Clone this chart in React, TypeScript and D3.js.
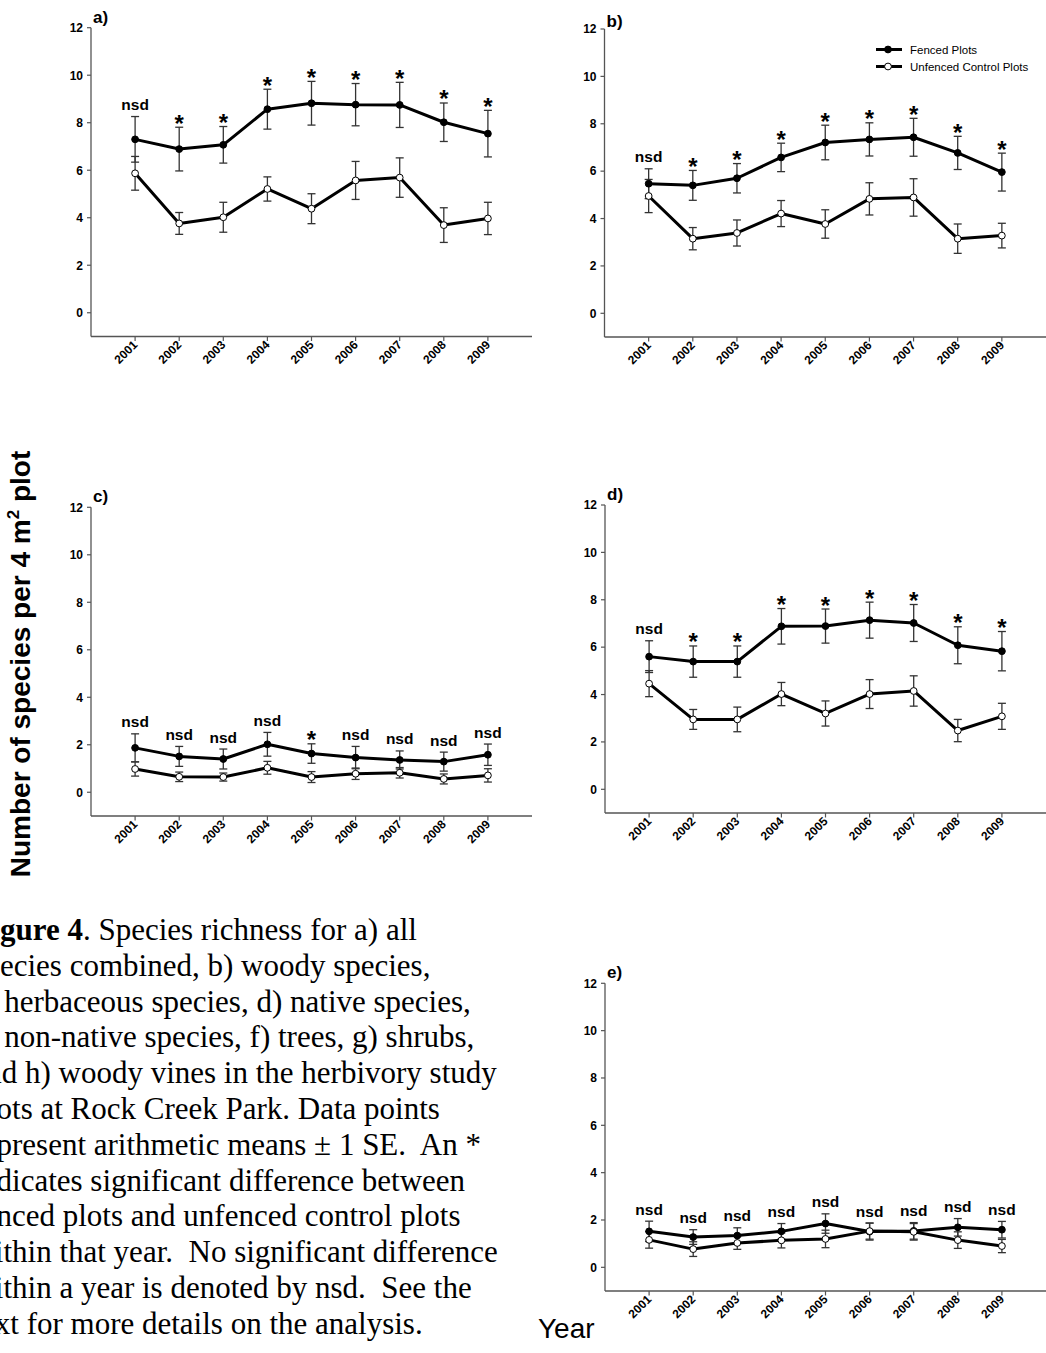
import React from 'react';
import * as d3 from 'd3';

const years = [2001, 2002, 2003, 2004, 2005, 2006, 2007, 2008, 2009];
const yTicks = [0, 2, 4, 6, 8, 10, 12];

const fencedA = [7.30, 6.89, 7.07, 8.57, 8.82, 8.76, 8.75, 8.02, 7.54];
const fencedSeA = [0.96, 0.92, 0.77, 0.84, 0.92, 0.89, 0.95, 0.81, 0.98];
const unfencedA = [5.87, 3.76, 4.02, 5.21, 4.38, 5.57, 5.69, 3.69, 3.97];
const unfencedSeA = [0.71, 0.46, 0.63, 0.51, 0.63, 0.80, 0.83, 0.73, 0.68];
const sigA = ['nsd', '*', '*', '*', '*', '*', '*', '*', '*'];

const fencedB = [5.47, 5.40, 5.70, 6.58, 7.21, 7.34, 7.43, 6.77, 5.96];
const fencedSeB = [0.63, 0.63, 0.62, 0.60, 0.73, 0.70, 0.80, 0.70, 0.80];
const unfencedB = [4.95, 3.15, 3.39, 4.21, 3.77, 4.83, 4.89, 3.15, 3.28];
const unfencedSeB = [0.70, 0.47, 0.55, 0.55, 0.60, 0.68, 0.79, 0.62, 0.52];
const sigB = ['nsd', '*', '*', '*', '*', '*', '*', '*', '*'];

const fencedC = [1.87, 1.51, 1.40, 2.02, 1.63, 1.46, 1.36, 1.29, 1.58];
const fencedSeC = [0.59, 0.42, 0.42, 0.50, 0.41, 0.47, 0.38, 0.40, 0.45];
const unfencedC = [0.98, 0.65, 0.64, 1.03, 0.64, 0.78, 0.82, 0.56, 0.71];
const unfencedSeC = [0.30, 0.20, 0.17, 0.27, 0.23, 0.24, 0.22, 0.21, 0.28];
const sigC = ['nsd', 'nsd', 'nsd', 'nsd', '*', 'nsd', 'nsd', 'nsd', 'nsd'];

const fencedD = [5.60, 5.39, 5.39, 6.88, 6.89, 7.14, 7.02, 6.08, 5.83];
const fencedSeD = [0.67, 0.66, 0.66, 0.75, 0.72, 0.76, 0.78, 0.78, 0.83];
const unfencedD = [4.46, 2.95, 2.95, 4.02, 3.20, 4.02, 4.15, 2.48, 3.08];
const unfencedSeD = [0.55, 0.42, 0.52, 0.49, 0.53, 0.61, 0.64, 0.47, 0.55];
const sigD = ['nsd', '*', '*', '*', '*', '*', '*', '*', '*'];

const fencedE = [1.52, 1.28, 1.34, 1.52, 1.85, 1.51, 1.54, 1.69, 1.59];
const fencedSeE = [0.43, 0.31, 0.33, 0.33, 0.41, 0.36, 0.35, 0.37, 0.35];
const unfencedE = [1.16, 0.77, 1.03, 1.14, 1.20, 1.53, 1.50, 1.15, 0.90];
const unfencedSeE = [0.35, 0.31, 0.27, 0.32, 0.37, 0.34, 0.35, 0.35, 0.28];
const sigE = ['nsd', 'nsd', 'nsd', 'nsd', 'nsd', 'nsd', 'nsd', 'nsd', 'nsd'];

const legendLabels = ['Fenced Plots', 'Unfenced Control Plots'];
const yAxisTitle = 'Number of species per 4 m';
const xAxisTitle = 'Year';
const captionLines = [
  'species combined, b) woody species,',
  'c) herbaceous species, d) native species,',
  'e) non-native species, f) trees, g) shrubs,',
  'and h) woody vines in the herbivory study',
  'plots at Rock Creek Park. Data points',
  'represent arithmetic means \u00b1 1 SE.  An *',
  'indicates significant difference between',
  'fenced plots and unfenced control plots',
  'within that year.  No significant difference',
  'within a year is denoted by nsd.  See the',
  'text for more details on the analysis.',
];

const SANS = '"Liberation Sans", Arial, Helvetica, sans-serif';
const SERIF = '"Liberation Serif", "Times New Roman", serif';

type PanelDef = {
  label: string;
  fenced: number[]; fencedSe: number[];
  unfenced: number[]; unfencedSe: number[];
  sig: string[];
  left: number; right: number; top: number; bottom: number; labelY: number;
  legend?: boolean;
};

const panels: PanelDef[] = [
  { label: 'a)', fenced: fencedA, fencedSe: fencedSeA, unfenced: unfencedA, unfencedSe: unfencedSeA, sig: sigA,
    left: 91, right: 532, top: 27.7, bottom: 336.5, labelY: 22.5 },
  { label: 'b)', fenced: fencedB, fencedSe: fencedSeB, unfenced: unfencedB, unfencedSe: unfencedSeB, sig: sigB,
    left: 604.5, right: 1046, top: 29, bottom: 337, labelY: 26.5, legend: true },
  { label: 'c)', fenced: fencedC, fencedSe: fencedSeC, unfenced: unfencedC, unfencedSe: unfencedSeC, sig: sigC,
    left: 91, right: 532, top: 507.3, bottom: 816, labelY: 501.5 },
  { label: 'd)', fenced: fencedD, fencedSe: fencedSeD, unfenced: unfencedD, unfencedSe: unfencedSeD, sig: sigD,
    left: 605, right: 1046, top: 505, bottom: 813, labelY: 499.5 },
  { label: 'e)', fenced: fencedE, fencedSe: fencedSeE, unfenced: unfencedE, unfencedSe: unfencedSeE, sig: sigE,
    left: 605, right: 1046, top: 983.3, bottom: 1291, labelY: 978 },
];

function Panel({ p }: { p: PanelDef }) {
  const x = d3.scaleLinear().domain([2000, 2010]).range([p.left, p.right]);
  const y = d3.scaleLinear().domain([-1, 12]).range([p.bottom, p.top]);
  const line = d3.line<number>().x((_, i) => x(years[i])).y((v) => y(v));
  const axisColor = '#555';
  const errColor = '#333';
  const cap = 4;

  const errBars = (vals: number[], se: number[], key: string) =>
    vals.map((v, i) => {
      const cx = x(years[i]);
      const y1 = y(v + se[i]);
      const y2 = y(v - se[i]);
      return (
        <g key={key + i} stroke={errColor} strokeWidth={1.3}>
          <line x1={cx} x2={cx} y1={y1} y2={y2} />
          <line x1={cx - cap} x2={cx + cap} y1={y1} y2={y1} />
          <line x1={cx - cap} x2={cx + cap} y1={y2} y2={y2} />
        </g>
      );
    });

  return (
    <g>
      <line x1={p.left} x2={p.left} y1={y(12)} y2={p.bottom} stroke={axisColor} strokeWidth={1.3} />
      <line x1={p.left} x2={p.right} y1={p.bottom} y2={p.bottom} stroke={axisColor} strokeWidth={1.3} />
      {yTicks.map((t) => (
        <g key={'yt' + t}>
          <line x1={p.left - 4} x2={p.left} y1={y(t)} y2={y(t)} stroke={axisColor} strokeWidth={1.2} />
          <text x={p.left - 8} y={y(t) + 4.3} textAnchor="end" fontFamily={SANS} fontWeight="bold" fontSize={12}>
            {t}
          </text>
        </g>
      ))}
      {years.map((yr) => (
        <g key={'xt' + yr}>
          <line x1={x(yr)} x2={x(yr)} y1={p.bottom} y2={p.bottom + 4.5} stroke={axisColor} strokeWidth={1.2} />
          <text
            transform={`translate(${x(yr) + 3},${p.bottom + 9}) rotate(-45)`}
            textAnchor="end"
            fontFamily={SANS}
            fontWeight="bold"
            fontSize={12}
          >
            {yr}
          </text>
        </g>
      ))}
      <text x={p.left + 2} y={p.labelY} fontFamily={SANS} fontWeight="bold" fontSize={17}>
        {p.label}
      </text>
      {errBars(p.fenced, p.fencedSe, 'ef')}
      {errBars(p.unfenced, p.unfencedSe, 'eu')}
      <path d={line(p.fenced) || ''} fill="none" stroke="#000" strokeWidth={3} strokeLinejoin="round" />
      <path d={line(p.unfenced) || ''} fill="none" stroke="#000" strokeWidth={3} strokeLinejoin="round" />
      {p.fenced.map((v, i) => (
        <circle key={'mf' + i} cx={x(years[i])} cy={y(v)} r={3.4} fill="#000" stroke="#000" strokeWidth={1} />
      ))}
      {p.unfenced.map((v, i) => (
        <circle key={'mu' + i} cx={x(years[i])} cy={y(v)} r={3.4} fill="#fff" stroke="#000" strokeWidth={1} />
      ))}
      {p.sig.map((s, i) => {
        const topV = Math.max(p.fenced[i] + p.fencedSe[i], p.unfenced[i] + p.unfencedSe[i]);
        const ty = y(topV);
        return s === '*' ? (
          <text key={'s' + i} x={x(years[i])} y={ty + 4.5} textAnchor="middle" fontFamily={SANS} fontWeight="bold" fontSize={24}>
            *
          </text>
        ) : (
          <text key={'s' + i} x={x(years[i])} y={ty - 6.5} textAnchor="middle" fontFamily={SANS} fontWeight="bold" fontSize={15.5}>
            {s}
          </text>
        );
      })}
      {p.legend && (
        <g fontFamily={SANS} fontSize={11.5}>
          {legendLabels.map((lab, i) => {
            const ly = 49.5 + i * 17;
            return (
              <g key={lab}>
                <line x1={876} x2={902} y1={ly} y2={ly} stroke="#000" strokeWidth={3} />
                <circle cx={888} cy={ly} r={3.4} fill={i === 0 ? '#000' : '#fff'} stroke="#000" strokeWidth={1} />
                <text x={910} y={ly + 4}>{lab}</text>
              </g>
            );
          })}
        </g>
      )}
    </g>
  );
}

export default function App() {
  return (
    <svg
      width={1046}
      height={1353}
      viewBox="0 0 1046 1353"
      style={{ position: 'absolute', left: 0, top: 0, background: '#fff' }}
    >
      <rect x={0} y={0} width={1046} height={1353} fill="#fff" />
      {panels.map((p) => (
        <Panel key={p.label} p={p} />
      ))}
      <text
        transform="translate(29.5,664) rotate(-90)"
        textAnchor="middle"
        fontFamily={SANS}
        fontWeight="bold"
        fontSize={28}
      >
        {yAxisTitle}
        <tspan fontSize={17} dy={-11}>2</tspan>
        <tspan dy={11}> plot</tspan>
      </text>
      <text x={538} y={1338} fontFamily={SANS} fontSize={28}>
        {xAxisTitle}
      </text>
      <g fontFamily={SERIF} fontSize={31}>
        <text x={-27.6} y={940} xmlSpace="preserve" style={{ whiteSpace: 'pre' }}>
          <tspan fontWeight="bold">Figure 4</tspan>. Species richness for a) all
        </text>
        {captionLines.map((l, i) => (
          <text key={i} x={-27.6} y={940 + (i + 1) * 35.8} xmlSpace="preserve" style={{ whiteSpace: 'pre' }}>
            {l}
          </text>
        ))}
      </g>
    </svg>
  );
}
